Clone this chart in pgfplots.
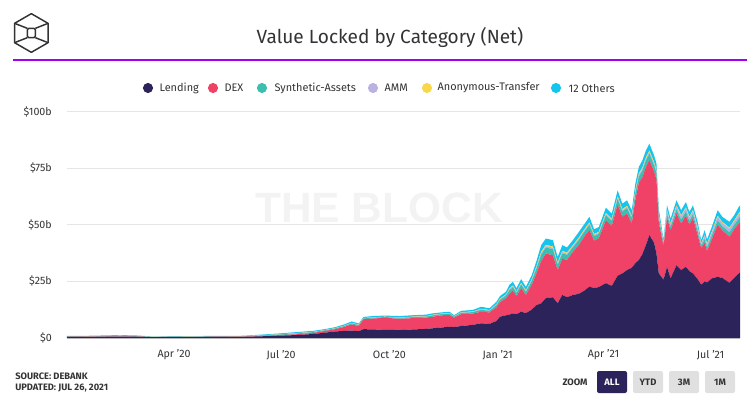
\documentclass[border=0pt]{standalone}
\usepackage{pgfplots}
\pgfplotsset{compat=1.18}
\usepackage{pgfplotstable}
\usepackage{fontspec}
\setmainfont{Fira Sans}
\newfontfamily\wmfont{Liberation Sans}
\definecolor{lend}{HTML}{2B2359}
\definecolor{dex}{HTML}{EF4266}
\definecolor{syn}{HTML}{3DBFAF}
\definecolor{amm}{HTML}{B9B3E2}
\definecolor{anon}{HTML}{F6D84A}
\definecolor{oth}{HTML}{16C5EE}
\definecolor{purp}{HTML}{A100F2}
\definecolor{txt}{HTML}{333333}
\definecolor{btn}{HTML}{E0E0E0}
\definecolor{wm}{HTML}{F3F3F3}

\pgfplotstableread{
day L D S A Y O
0 0.45 0.10 0.12 0.02 0.03 0.18
20 0.50 0.10 0.14 0.02 0.04 0.20
45 0.60 0.12 0.20 0.03 0.06 0.29
60 0.55 0.10 0.16 0.02 0.05 0.22
72 0.35 0.07 0.10 0.01 0.03 0.14
90 0.40 0.08 0.11 0.02 0.03 0.16
120 0.45 0.10 0.12 0.02 0.04 0.17
150 0.50 0.12 0.13 0.02 0.04 0.19
165 0.75 0.15 0.21 0.03 0.06 0.30
180 1.00 0.25 0.26 0.04 0.08 0.37
195 1.30 0.35 0.33 0.05 0.10 0.47
210 1.80 0.50 0.32 0.04 0.09 0.45
220 2.40 0.80 0.28 0.04 0.08 0.40
228 2.90 1.00 0.32 0.04 0.09 0.45
235 3.10 1.70 0.38 0.06 0.11 0.55
242 3.30 2.70 0.45 0.07 0.13 0.65
248 3.00 2.30 0.38 0.06 0.11 0.55
252 3.90 4.40 0.35 0.05 0.10 0.50
260 3.80 4.80 0.38 0.06 0.11 0.55
270 3.60 5.30 0.35 0.05 0.10 0.50
283 3.50 5.00 0.42 0.06 0.12 0.60
295 3.80 5.00 0.45 0.07 0.13 0.65
305 4.00 5.00 0.45 0.07 0.13 0.65
311 4.30 5.10 0.60 0.15 0.12 0.63
318 4.60 5.40 0.52 0.13 0.10 0.55
325 5.00 5.20 0.56 0.14 0.11 0.59
329 4.80 4.20 0.44 0.11 0.09 0.46
335 5.30 5.20 0.60 0.15 0.12 0.63
345 5.80 5.00 0.64 0.16 0.13 0.67
352 6.50 5.10 0.88 0.22 0.18 0.92
359 6.20 5.10 0.72 0.18 0.14 0.76
365 7.50 6.00 1.00 0.25 0.20 1.05
368 9.40 6.40 1.08 0.27 0.22 1.13
373 10.00 7.50 1.16 0.29 0.23 1.22
376 10.30 9.20 1.60 0.40 0.32 1.68
379 10.90 10.10 1.52 0.38 0.30 1.60
382 10.50 8.00 1.40 0.35 0.28 1.47
386 11.60 10.40 1.60 0.40 0.32 1.68
390 11.00 8.00 1.44 0.36 0.29 1.51
395 12.50 11.00 1.68 0.42 0.34 1.76
399 14.50 14.00 2.20 0.55 0.44 2.31
403 15.30 18.70 2.80 0.70 0.56 2.94
407 17.60 19.70 2.64 0.66 0.53 2.77
413 18.00 18.50 2.68 0.67 0.54 2.81
417 15.30 14.70 2.32 0.58 0.46 2.44
421 19.00 16.00 2.40 0.60 0.48 2.52
425 18.00 16.50 2.20 0.55 0.44 2.31
430 19.00 19.00 2.08 0.52 0.42 2.18
435 19.50 21.50 2.32 0.58 0.46 2.44
440 21.00 24.00 2.20 0.55 0.44 2.31
444 22.70 24.90 2.36 0.59 0.47 2.48
448 22.00 21.00 2.00 0.50 0.40 2.10
452 22.50 21.50 2.00 0.50 0.40 2.10
458 24.20 27.80 2.20 0.55 0.44 2.31
463 23.00 26.50 2.16 0.54 0.43 2.27
468 27.50 31.50 2.48 0.62 0.50 2.60
472 28.50 25.00 2.32 0.58 0.46 2.44
476 30.00 25.00 2.32 0.58 0.46 2.44
480 31.00 19.50 2.36 0.59 0.47 2.48
483 33.00 28.00 2.84 0.71 0.57 2.98
486 34.40 34.10 2.80 0.70 0.56 2.94
489 37.00 34.00 2.96 0.74 0.59 3.11
492 41.00 34.50 2.92 0.73 0.58 3.07
495 45.40 33.10 2.92 0.73 0.58 3.07
499 42.00 31.50 2.84 0.71 0.57 2.98
501 37.30 32.70 2.80 0.70 0.56 2.94
503 28.50 22.50 2.40 0.60 0.48 2.52
507 25.70 14.80 0.90 0.75 0.21 1.14
510 31.40 21.60 1.68 1.40 0.39 2.13
513 26.30 21.20 1.56 1.30 0.36 1.98
518 32.10 22.90 1.74 1.45 0.41 2.20
522 30.00 20.50 1.77 1.48 0.41 2.24
526 31.40 22.60 1.80 1.50 0.42 2.28
529 29.50 20.50 1.68 1.40 0.39 2.13
532 28.50 24.50 1.68 1.40 0.39 2.13
536 26.00 19.50 1.74 1.45 0.41 2.20
539 23.50 16.20 1.05 0.88 0.25 1.32
542 25.00 17.00 1.68 1.40 0.39 2.13
544 24.50 14.00 1.50 1.25 0.35 1.90
548 26.30 17.20 1.65 1.38 0.39 2.08
553 27.00 23.00 1.92 1.60 0.45 2.43
557 26.50 21.00 1.80 1.50 0.42 2.28
563 24.40 20.30 1.98 1.65 0.46 2.51
567 26.50 21.50 1.86 1.55 0.43 2.36
571 28.50 22.00 2.22 1.85 0.52 2.81
572 29.00 22.50 2.10 1.75 0.49 2.66
}\data

\begin{document}
\begin{tikzpicture}
\path[use as bounding box] (0,0) rectangle (560.25pt,-300pt);
% logo
\begin{scope}[shift={(23.5pt,-24.75pt)}, line width=1.1pt, draw=txt, line join=round]
\draw (90:14.5pt) -- (30:14.5pt) -- (-30:14.5pt) -- (-90:14.5pt) -- (-150:14.5pt) -- (150:14.5pt) -- cycle;
\draw[rounded corners=1pt] (-3pt,-3.5pt) rectangle (3pt,3.5pt);
\draw (150:14.5pt) -- (-3pt,3.5pt);
\draw (30:14.5pt) -- (3pt,3.5pt);
\draw (-150:14.5pt) -- (-3pt,-3.5pt);
\draw (-30:14.5pt) -- (3pt,-3.5pt);
\end{scope}
% title
\node[font=\fontsize{14.3}{16}\selectfont, text=txt] at (292.5pt,-27.75pt) {Value Locked by Category (Net)};
\draw[purp, line width=0.8pt] (9.75pt,-45pt) -- (560.25pt,-45pt);
% watermark
\node[inner sep=0pt, font=\wmfont\bfseries\fontsize{31.8}{32}\selectfont, text=wm] at (284.25pt,-156pt) {THE BLOCK};
% legend
\foreach \mx/\tx/\c/\lab in {148/160/lend/Lending, 213/225/dex/DEX, 262/275/syn/Synthetic-Assets, 373/385/amm/AMM, 427/438/anon/Anonymous-Transfer, 556/569/oth/12 Others}{
  \fill[\c] (\mx*0.75pt,-66pt) circle (3.8pt);
  \node[anchor=west, inner sep=0pt, font=\fontsize{8.2}{10}\selectfont, text=txt] at (\tx*0.75pt-0.5pt,-66pt) {\lab};
}
% footer
\node[anchor=west, inner sep=0pt, font=\bfseries\fontsize{7}{8}\selectfont, text=txt] at (11.25pt,-282pt) {SOURCE: DEBANK};
\node[anchor=west, inner sep=0pt, font=\bfseries\fontsize{7}{8}\selectfont, text=txt] at (11.25pt,-291pt) {UPDATED: JUL 26, 2021};
\node[font=\bfseries\fontsize{7}{8}\selectfont, text=txt] at (431.25pt,-286.5pt) {ZOOM};
\fill[lend, rounded corners=1.5pt] (447.75pt,-278.25pt) rectangle (470.25pt,-294.75pt);
\node[font=\bfseries\fontsize{7}{8}\selectfont, text=white] at (459pt,-286.5pt) {ALL};
\foreach \a/\lab in {474.75/YTD, 501.75/3M, 528.75/1M}{
  \fill[btn, rounded corners=1.5pt] (\a pt,-278.25pt) rectangle ++(22.5pt,-16.5pt);
  \node[font=\bfseries\fontsize{7}{8}\selectfont, text=txt] at (\a pt+11.25pt,-286.5pt) {\lab};
}
\begin{axis}[
  at={(50.25pt,-253.5pt)}, anchor=south west,
  scale only axis, width=504.75pt, height=169.875pt,
  xmin=0, xmax=572, ymin=0, ymax=100,
  stack plots=y,
  axis x line*=bottom, axis y line*=left,
  y axis line style={draw=none},
  x axis line style={draw=black!20},
  tick style={draw=none},
  ymajorgrids, major grid style={draw=black!10, line width=0.6pt},
  ytick={0,25,50,75,100},
  yticklabels={\$0,\$25b,\$50b,\$75b,\$100b},
  xtick={91,182,274,366,456,547},
  xticklabels={Apr '20,Jul '20,Oct '20,Jan '21,Apr '21,Jul '21},
  ticklabel style={font=\fontsize{8}{9}\selectfont, text=txt},
  yticklabel style={inner sep=0pt, anchor=east, xshift=-11.25pt},
  xticklabel style={inner sep=0pt, anchor=center, yshift=-12.75pt},
  clip=false,
]
\addplot[fill=lend, draw=none] table[x=day,y=L] {\data} \closedcycle;
\addplot[fill=dex, draw=none] table[x=day,y=D] {\data} \closedcycle;
\addplot[fill=syn, draw=none] table[x=day,y=S] {\data} \closedcycle;
\addplot[fill=amm, draw=none] table[x=day,y=A] {\data} \closedcycle;
\addplot[fill=anon, draw=none] table[x=day,y=Y] {\data} \closedcycle;
\addplot[fill=oth, draw=none] table[x=day,y=O] {\data} \closedcycle;
\end{axis}
\end{tikzpicture}
\end{document}
